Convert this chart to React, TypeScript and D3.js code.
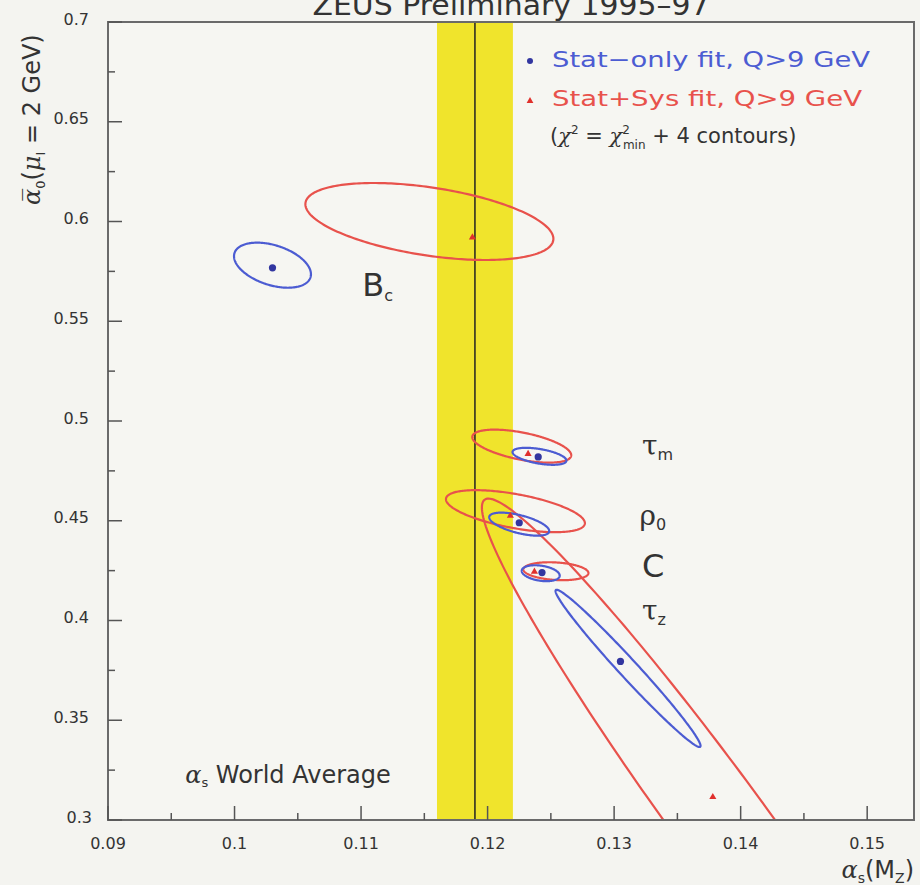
import * as d3 from "d3";
import React from "react";

// fits: B_c, tau_m, rho_0, C, tau_z
const fitNames = ["B", "τ", "ρ", "C", "τ"];
const fitSubs = ["c", "m", "0", "", "z"];
const labelAs = [0.1101, 0.1322, 0.132, 0.1322, 0.1322];
const labelA0 = [0.5626, 0.4828, 0.4478, 0.4217, 0.4001];

// best fit points
const statBestAs = [0.103, 0.124, 0.1225, 0.1243, 0.1305];
const statBestA0 = [0.5768, 0.482, 0.449, 0.424, 0.3795];
const sysBestAs = [0.1188, 0.1232, 0.1218, 0.1237, 0.1378];
const sysBestA0 = [0.592, 0.4835, 0.4525, 0.4245, 0.3115];

// chi2 = chi2min + 4 contours (centre, half extents, correlation)
const statContAs = [0.103, 0.1241, 0.1225, 0.1242, 0.1311];
const statContA0 = [0.5781, 0.4823, 0.4483, 0.4237, 0.376];
const statHalfAs = [0.00304, 0.00213, 0.00237, 0.0015, 0.00573];
const statHalfA0 = [0.0113, 0.00426, 0.00577, 0.004, 0.0394];
const statRho = [-0.4, -0.5, -0.6, -0.3, -0.985];

const sysContAs = [0.1154, 0.1227, 0.1222, 0.1254, 0.1385];
const sysContA0 = [0.6, 0.4874, 0.4548, 0.4247, 0.2983];
const sysHalfAs = [0.0098, 0.00391, 0.00549, 0.00257, 0.01895];
const sysHalfA0 = [0.0193, 0.00827, 0.01053, 0.0045, 0.1628];
const sysRho = [-0.45, -0.55, -0.57, -0.2, -0.9725];

// world average alpha_s
const worldAvg = 0.119;
const worldBand = [0.116, 0.122];

const xTicks = [0.09, 0.1, 0.11, 0.12, 0.13, 0.14, 0.15];
const xTickLabels = ["0.09", "0.1", "0.11", "0.12", "0.13", "0.14", "0.15"];
const yTicks = [0.3, 0.35, 0.4, 0.45, 0.5, 0.55, 0.6, 0.65, 0.7];
const yTickLabels = ["0.3", "0.35", "0.4", "0.45", "0.5", "0.55", "0.6", "0.65", "0.7"];

const BLUE = "#4c5cd2";
const RED = "#e8524c";
const FONT = "DejaVu Sans";

export default function App() {
  const width = 920;
  const height = 885;
  const left = 108, right = 914, top = 22, bottom = 820;

  const x = d3.scaleLinear().domain([0.09, 0.1537]).range([left, right]);
  const y = d3.scaleLinear().domain([0.3, 0.7]).range([bottom, top]);

  const line = d3
    .line<[number, number]>()
    .x((d) => x(d[0]))
    .y((d) => y(d[1]))
    .curve(d3.curveLinearClosed);

  // contour as a correlated ellipse
  const contour = (cx: number, cy: number, hx: number, hy: number, rho: number) => {
    const pts: [number, number][] = d3.range(0, 240).map((i) => {
      const t = (i / 240) * 2 * Math.PI;
      return [
        cx + hx * Math.cos(t),
        cy + hy * (rho * Math.cos(t) + Math.sqrt(1 - rho * rho) * Math.sin(t)),
      ];
    });
    return line(pts) as string;
  };

  const xMinor = d3.range(0.095, 0.155, 0.01);
  const yMinor = d3.range(0.325, 0.7, 0.05);

  return (
    <div style={{ position: "absolute", left: 0, top: 0 }}>
      <svg width={width} height={height} style={{ display: "block", background: "#f4f4f0" }} fontFamily={FONT}>
        <defs>
          <clipPath id="plotArea">
            <rect x={left} y={top} width={right - left} height={bottom - top} />
          </clipPath>
        </defs>

        {/* title, cut off at the top edge */}
        <text x={(left + right) / 2} y={15} textAnchor="middle" fontSize={28} fill="#333" textLength={397} lengthAdjust="spacingAndGlyphs">
          ZEUS Preliminary 1995–97
        </text>

        <rect x={left} y={top} width={right - left} height={bottom - top} fill="#f6f6f2" />

        {/* world average band */}
        <rect
          x={x(worldBand[0])}
          y={top}
          width={x(worldBand[1]) - x(worldBand[0])}
          height={bottom - top}
          fill="#f0e42c"
        />
        <line x1={x(worldAvg)} x2={x(worldAvg)} y1={top} y2={bottom} stroke="#222" strokeWidth={1.5} />

        <g clipPath="url(#plotArea)" fill="none" strokeWidth={2.2}>
          {sysContAs.map((_, i) => (
            <path key={"s" + i} d={contour(sysContAs[i], sysContA0[i], sysHalfAs[i], sysHalfA0[i], sysRho[i])} stroke={RED} />
          ))}
          {statContAs.map((_, i) => (
            <path key={"b" + i} d={contour(statContAs[i], statContA0[i], statHalfAs[i], statHalfA0[i], statRho[i])} stroke={BLUE} />
          ))}
        </g>

        {/* best fit points */}
        {sysBestAs.map((_, i) => (
          <path
            key={"st" + i}
            d={d3.symbol(d3.symbolTriangle, 22)() as string}
            transform={`translate(${x(sysBestAs[i])},${y(sysBestA0[i])})`}
            fill="#e0302c"
          />
        ))}
        {statBestAs.map((_, i) => (
          <circle key={"bc" + i} cx={x(statBestAs[i])} cy={y(statBestA0[i])} r={3.6} fill="#3236a0" />
        ))}

        {/* fit labels */}
        {fitNames.map((n, i) => (
          <text key={"l" + i} x={x(labelAs[i])} y={y(labelA0[i])} fill="#333">
            <tspan fontSize={n === "B" || n === "C" ? 32 : 28} fontFamily={n === "B" || n === "C" ? FONT : "DejaVu Serif"}>
              {n}
            </tspan>
            <tspan fontSize={16} dy={5}>{fitSubs[i]}</tspan>
          </text>
        ))}

        <text x={x(0.0961)} y={y(0.3184)} fontSize={24} fill="#333">
          <tspan fontFamily="DejaVu Serif" fontStyle="italic">α</tspan>
          <tspan fontSize={13} dy={4}>s</tspan>
          <tspan dy={-4}> World Average</tspan>
        </text>

        {/* legend */}
        <circle cx={530} cy={61} r={3} fill="#3236a0" />
        <text x={552} y={67} fontSize={21} fill={BLUE} textLength={318} lengthAdjust="spacingAndGlyphs">
          Stat−only fit, Q&gt;9 GeV
        </text>
        <path d={d3.symbol(d3.symbolTriangle, 20)() as string} transform="translate(530,101)" fill="#e0302c" />
        <text x={552} y={106} fontSize={21} fill={RED} textLength={310} lengthAdjust="spacingAndGlyphs">
          Stat+Sys fit, Q&gt;9 GeV
        </text>
        <text x={550} y={143} fontSize={21} fill="#333">
          <tspan>(</tspan>
          <tspan fontFamily="DejaVu Serif" fontStyle="italic">χ</tspan>
          <tspan fontSize={12} dy={-9}>2</tspan>
          <tspan dy={9}> = </tspan>
          <tspan fontFamily="DejaVu Serif" fontStyle="italic">χ</tspan>
          <tspan fontSize={12} dy={-9}>2</tspan>
          <tspan fontSize={12} dx={-7} dy={15}>min</tspan>
          <tspan dy={-6}> + 4 contours)</tspan>
        </text>

        {/* frame and ticks */}
        <rect x={left} y={top} width={right - left} height={bottom - top} fill="none" stroke="#6a6a6a" strokeWidth={2} />
        {xTicks.map((t) => (
          <line key={"xt" + t} x1={x(t)} x2={x(t)} y1={bottom} y2={bottom - 14} stroke="#555" strokeWidth={1.5} />
        ))}
        {xMinor.map((t) => (
          <line key={"xm" + t} x1={x(t)} x2={x(t)} y1={bottom} y2={bottom - 7} stroke="#555" strokeWidth={1.5} />
        ))}
        {yTicks.map((t) => (
          <line key={"yt" + t} x1={left} x2={left + 14} y1={y(t)} y2={y(t)} stroke="#555" strokeWidth={1.5} />
        ))}
        {yMinor.map((t) => (
          <line key={"ym" + t} x1={left} x2={left + 7} y1={y(t)} y2={y(t)} stroke="#555" strokeWidth={1.5} />
        ))}

        {xTicks.map((t, i) => (
          <text key={"xl" + t} x={x(t)} y={bottom + 29} textAnchor="middle" fontSize={16} fill="#333">
            {xTickLabels[i]}
          </text>
        ))}
        {yTicks.map((t, i) => (
          <text key={"yl" + t} x={i === 0 ? 92 : 89} y={y(t) - 2} textAnchor="end" dominantBaseline="middle" fontSize={16} fill="#333">
            {yTickLabels[i]}
          </text>
        ))}

        {/* axis titles */}
        <text x={914} y={878} textAnchor="end" fontSize={24} fill="#333">
          <tspan fontFamily="DejaVu Serif" fontStyle="italic">α</tspan>
          <tspan fontSize={14} dy={5}>s</tspan>
          <tspan dy={-5}>(M</tspan>
          <tspan fontSize={14} dy={5}>Z</tspan>
          <tspan dy={-5}>)</tspan>
        </text>
        <text transform="translate(40,205) rotate(-90)" fontSize={24} fill="#333">
          <tspan fontFamily="DejaVu Serif" fontStyle="italic">α̅</tspan>
          <tspan fontSize={13} dy={5}>0</tspan>
          <tspan dy={-5}>(</tspan>
          <tspan fontFamily="DejaVu Serif" fontStyle="italic">μ</tspan>
          <tspan fontSize={13} dy={5}>I</tspan>
          <tspan dy={-5}> = 2 GeV)</tspan>
        </text>
      </svg>
    </div>
  );
}
